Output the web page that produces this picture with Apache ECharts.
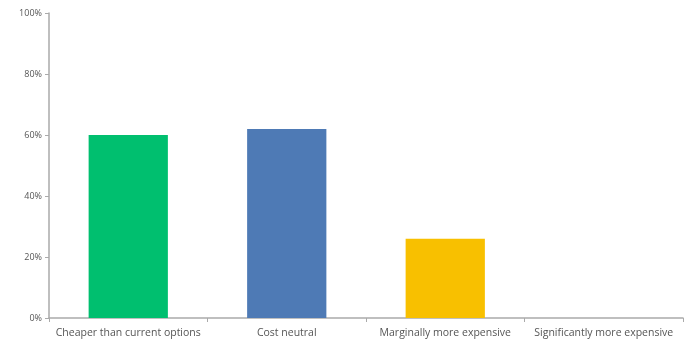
<!DOCTYPE html>
<html>
<head>
<meta charset="utf-8">
<script src="https://cdn.jsdelivr.net/npm/echarts@6/dist/echarts.min.js"></script>
<style>
html,body{margin:0;padding:0;background:#fff;}
#chart{width:690px;height:341px;}
</style>
</head>
<body>
<div id="chart"></div>
<script>
var categories = ['Cheaper than current options', 'Cost neutral', 'Marginally more expensive', 'Significantly more expensive'];
var values = [60, 62, 26, 0];
var barColors = ['#00bf6f', '#4e7ab5', '#f8c000', '#999999'];
var yTicks = [0, 20, 40, 60, 80, 100];

var myChart = echarts.init(document.getElementById('chart'));
var option = {
	animation: false,
	grid: {left: 49, right: 7, top: 13, bottom: 23},
	xAxis: {
		type: 'category',
		data: categories,
		axisLine: {lineStyle: {color: '#aaaaaa', width: 1.5}},
		axisTick: {show: true, length: 4, lineStyle: {color: '#aaaaaa'}},
		axisLabel: {color: '#555555', fontFamily: 'Open Sans', fontSize: 10.5, margin: 10, interval: 0}
	},
	yAxis: {
		type: 'value',
		min: yTicks[0],
		max: yTicks[yTicks.length - 1],
		interval: 20,
		axisLine: {show: true, lineStyle: {color: '#aaaaaa', width: 1.5}},
		axisTick: {show: true, length: 4, lineStyle: {color: '#aaaaaa'}},
		splitLine: {show: false},
		axisLabel: {color: '#555555', fontFamily: 'Open Sans', fontSize: 9, margin: 7, formatter: '{value}%'}
	},
	series: [{
		type: 'bar',
		barWidth: '50%',
		data: values.map(function(v, i){
			return {value: v, itemStyle: {color: barColors[i]}};
		})
	}]
};
myChart.setOption(option);
</script>
</body>
</html>
